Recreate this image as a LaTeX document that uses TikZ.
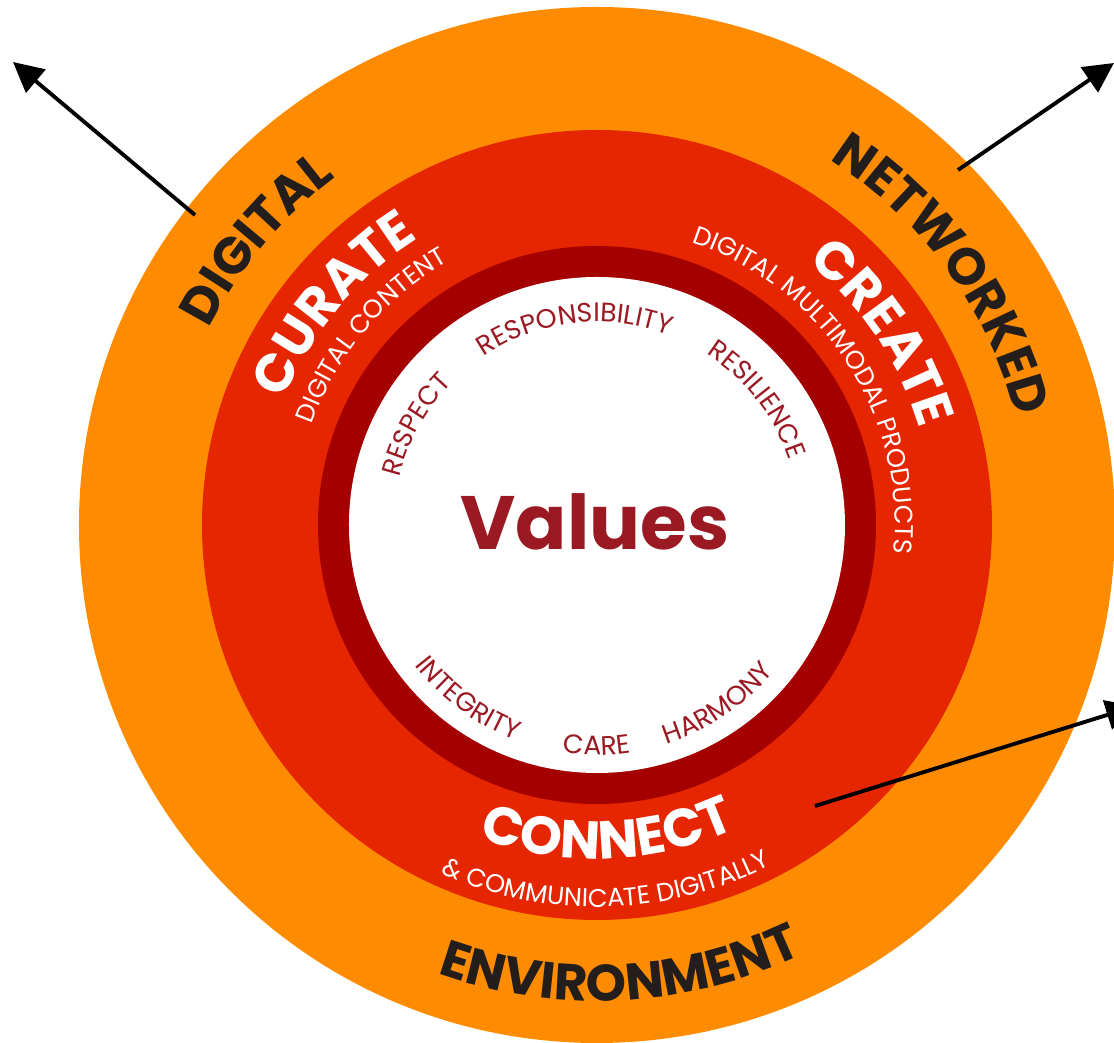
\documentclass[tikz,border=0pt]{standalone}
\usepackage{fontspec}
\setmainfont{Poppins}
\usetikzlibrary{decorations.text,arrows.meta}

\definecolor{ringorange}{RGB}{255,140,0}
\definecolor{ringred}{RGB}{230,38,0}
\definecolor{ringdark}{RGB}{165,0,0}
\definecolor{bandink}{RGB}{35,30,28}
\definecolor{valueink}{RGB}{155,25,35}

\newcommand\bandfont{\fontsize{14.6}{16}\selectfont\bfseries\color{bandink}}
\newcommand\skillfont{\fontsize{15.2}{17}\selectfont\bfseries\color{white}}
\newcommand\subfont{\fontsize{7.3}{8}\selectfont\color{white}}
\newcommand\valuefont{\fontsize{7.6}{8}\selectfont\color{valueink}}

\tikzset{
  arcword/.style={decorate,decoration={text along path,text align=center,text={#1}}},
  pointer/.style={line width=1.1pt,-{Triangle[length=8.5pt,width=8.5pt]}}
}

\begin{document}
\begin{tikzpicture}[x=0.01cm,y=0.01cm]
	\useasboundingbox (-597,-518) rectangle (517,525);
	\clip (-597,-518) rectangle (517,525);
	\coordinate (c) at (0,0);
	% rings
	\fill[ringorange] (c) circle[radius=518];
	\fill[ringred] (c) circle[radius=395];
	\fill[ringdark] (c) circle[radius=279];
	\fill[white] (c) circle[radius=248];
	% outer band
	\path[arcword={|\bandfont|DIGITAL}] (180:435) arc[start angle=180,end angle=100,radius=435];
	\path[arcword={|\bandfont|NETWORKED}] (76:433) arc[start angle=76,end angle=-4,radius=433];
	\path[arcword={|\bandfont|ENVIRONMENT}] (-127:476) arc[start angle=-127,end angle=-47,radius=476];
	% middle band
	\path[arcword={|\skillfont|CURATE}] (180:337) arc[start angle=180,end angle=100,radius=337];
	\path[arcword={|\subfont|DIGITAL CONTENT}] (185:302) arc[start angle=185,end angle=95,radius=302];
	\path[arcword={|\skillfont|CREATE}] (74:337) arc[start angle=74,end angle=-6,radius=337];
	\path[arcword={|\subfont|DIGITAL MULTIMODAL PRODUCTS}] (100:298) arc[start angle=100,end angle=-34,radius=298];
	\path[arcword={|\skillfont|CONNECT}] (-128:334) arc[start angle=-128,end angle=-48,radius=334];
	\path[arcword={|\subfont|{\&} COMMUNICATE DIGITALLY}] (-140:382) arc[start angle=-140,end angle=-37,radius=382];
	% values
	\path[arcword={|\valuefont|RESPECT}] (181:203) arc[start angle=181,end angle=121,radius=203];
	\path[arcword={|\valuefont|RESPONSIBILITY}] (140:203) arc[start angle=140,end angle=53,radius=203];
	\path[arcword={|\valuefont|RESILIENCE}] (68:203) arc[start angle=68,end angle=8,radius=203];
	\path[arcword={|\valuefont|INTEGRITY}] (-156:230) arc[start angle=-156,end angle=-97,radius=230];
	\path[arcword={|\valuefont|CARE}] (-110:230) arc[start angle=-110,end angle=-70,radius=230];
	\path[arcword={|\valuefont|HARMONY}] (-86:230) arc[start angle=-86,end angle=-26,radius=230];
	\node[anchor=base,text=valueink,font=\fontsize{21.5}{24}\selectfont\bfseries] (values) at (-2,-25) {Values};
	% arrows
	\coordinate (digitalfoot) at (-402,310);
	\coordinate (digitaltip) at (-584,463);
	\coordinate (netfoot) at (361,355);
	\coordinate (nettip) at (517,462);
	\coordinate (connectfoot) at (218,-281);
	\coordinate (connecttip) at (539,-181);
	\draw[pointer] (digitalfoot) -- (digitaltip);
	\draw[pointer] (netfoot) -- (nettip);
	\draw[pointer] (connectfoot) -- (connecttip);
\end{tikzpicture}
\end{document}
